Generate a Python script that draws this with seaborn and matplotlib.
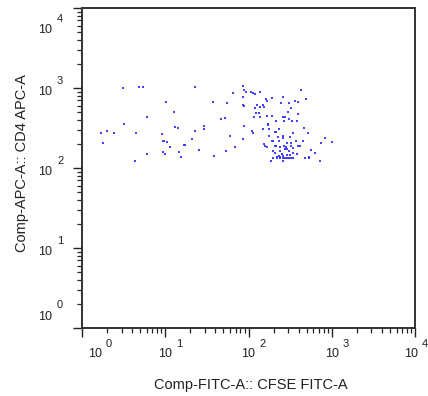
import numpy as np
import pandas as pd
import matplotlib
matplotlib.use("Agg")
import matplotlib.pyplot as plt
import seaborn as sns
from matplotlib.ticker import LogLocator, NullFormatter

# CFSE FITC-A (x) and CD4 APC-A (y) event values
cfse = [3.1, 4.8, 5.35, 22.6, 10.2, 12.7, 6.0, 3.2, 1.68, 2.0, 2.4, 4.45, 1.8, 4.3, 6.0,
        9.1, 9.3, 9.7, 10.6, 11.4, 9.5, 9.8, 13.1, 14.1, 14.8, 15.3, 16.8, 17.1, 21.0, 22.6,
        25.2, 29.2, 29.2, 37.5, 38.9, 46.3, 51.7, 55.7, 60, 64.5, 69.5, 53.7,
        85.9, 88.3, 92.5, 85.9, 85.9, 87.5, 106, 114, 119, 137, 119, 128, 137, 148, 152,
        162, 165, 190, 262, 243, 309, 362, 390, 424, 486, 89, 85, 110, 114, 123, 132, 116,
        137, 148, 165, 173, 173, 178, 193, 214, 235, 257, 277, 264, 301, 304, 324, 336, 383,
        393, 469, 523, 206, 212, 175, 152, 158, 165, 191, 199, 206, 214, 226, 230, 262, 262,
        267, 282, 287, 239, 315, 327, 346, 327, 397, 416, 448, 372, 199, 208, 239, 272, 287,
        304, 346, 250, 346, 379, 315, 287, 230, 222, 239, 262, 199, 218, 239, 257, 274, 287,
        304, 327, 346, 185, 257, 473, 528, 538, 623, 558, 722, 750, 837, 1007]
cd4 = [1000, 1040, 1040, 1040, 675, 506, 438, 351, 274, 293, 274, 274, 203, 124, 148,
       264, 220, 220, 211, 185, 158, 148, 328, 316, 158, 139, 196, 192, 228, 293,
       169, 338, 304, 675, 143, 406, 422, 649, 254, 866, 185, 165,
       1070, 935, 900, 772, 619, 596, 900, 866, 833, 900, 562, 619, 584, 619, 584,
       729, 681, 743, 772, 649, 649, 695, 668, 935, 721, 338, 228, 293, 271, 482, 482, 438,
       438, 304, 447, 358, 341, 304, 447, 390, 307, 438, 438, 390, 501, 406, 557, 390, 390,
       469, 316, 271, 282, 282, 254, 198, 190, 185, 220, 220, 190, 190, 246, 220, 254, 237,
       190, 183, 205, 185, 246, 203, 274, 190, 190, 190, 220, 220, 165, 153, 165, 171, 171,
       165, 176, 150, 153, 148, 144, 144, 141, 139, 139, 141, 132, 132, 132, 132, 132, 132,
       132, 132, 132, 122, 122, 132, 136, 132, 153, 169, 122, 203, 237, 211]

x_label = "Comp-FITC-A:: CFSE FITC-A"
y_label = "Comp-APC-A:: CD4 APC-A"
decades = [1, 10, 100, 1000, 10000]
tick_base = "10"
tick_exponents = ["0", "1", "2", "3", "4"]

df = pd.DataFrame({"x": cfse, "y": cd4})

sns.set_style("ticks")
plt.rcParams["font.family"] = ["Liberation Sans", "DejaVu Sans"]

TXT = "#222222"
fig = plt.figure(figsize=(4.28, 3.96), dpi=100)
ax = fig.add_axes([82 / 428, 1 - 328 / 396, 333 / 428, 320 / 396])

sns.scatterplot(data=df, x="x", y="y", ax=ax, marker="s", s=2.2,
                color="#2f2fff", linewidth=0, alpha=0.9)

ax.set_xscale("log")
ax.set_yscale("log")
ax.set_xlim(1, 10000)
ax.set_ylim(1, 10000)

ax.set_xticks(decades)
ax.set_yticks(decades)
ax.xaxis.set_minor_locator(LogLocator(base=10, subs=np.arange(2, 10), numticks=20))
ax.yaxis.set_minor_locator(LogLocator(base=10, subs=np.arange(2, 10), numticks=20))
ax.xaxis.set_minor_formatter(NullFormatter())
ax.yaxis.set_minor_formatter(NullFormatter())

ax.tick_params(axis="both", which="major", direction="out", length=6.5, width=1.0,
               color="#222222", labelbottom=False, labelleft=False)
ax.tick_params(axis="both", which="minor", direction="out", length=3.3, width=0.9,
               color="#222222")

PT = 72 / 100  # points per pixel
n = len(decades)
# y-axis labels: "10" with a large exponent (pixel offsets; positive shift = downwards)
for i, (v, e) in enumerate(zip(decades, tick_exponents)):
    shift = 0
    if i == n - 1:
        shift = 18
    elif i == 0:
        shift = -15.5
    ax.annotate(tick_base, xy=(0, v), xycoords=("axes fraction", "data"),
                xytext=(-30 * PT, (-4 - shift) * PT), textcoords="offset points",
                ha="right", va="center", fontsize=9, color=TXT, annotation_clip=False)
    ax.annotate(e, xy=(0, v), xycoords=("axes fraction", "data"),
                xytext=(-25 * PT, (7 - shift) * PT), textcoords="offset points",
                ha="left", va="center", fontsize=8, color=TXT, annotation_clip=False)
# x-axis labels
for i, (v, e) in enumerate(zip(decades, tick_exponents)):
    shift = 0
    if i == 0:
        shift = 13
    elif i == n - 1:
        shift = -4
    ax.annotate(tick_base, xy=(v, 0), xycoords=("data", "axes fraction"),
                xytext=(shift * PT, -26 * PT), textcoords="offset points",
                ha="center", va="center", fontsize=9, color=TXT, annotation_clip=False)
    ax.annotate(e, xy=(v, 0), xycoords=("data", "axes fraction"),
                xytext=((shift + 11) * PT, -16 * PT), textcoords="offset points",
                ha="left", va="center", fontsize=8, color=TXT, annotation_clip=False)

for sp in ax.spines.values():
    sp.set_visible(True)
    sp.set_color("#333333")
    sp.set_linewidth(1.4)

ax.set_xlabel("")
ax.set_ylabel("")
fig.text(251 / 428, 1 - 385 / 396, x_label, ha="center", va="center",
         fontsize=10.5, color=TXT)
fig.text(22 / 428, 1 - 163 / 396, y_label, ha="center", va="center",
         rotation=90, fontsize=10.5, color=TXT)
ax.grid(False)

fig.savefig("out.png", dpi=100)
